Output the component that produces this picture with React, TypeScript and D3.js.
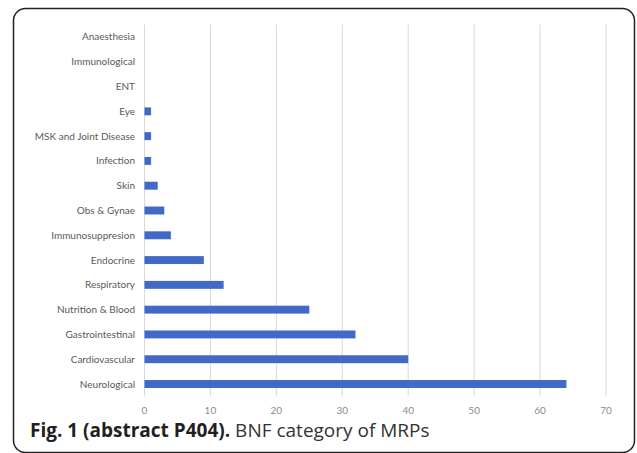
import React, { useEffect, useRef } from "react";
import * as d3 from "d3";

const categories = [
  "Anaesthesia",
  "Immunological",
  "ENT",
  "Eye",
  "MSK and Joint Disease",
  "Infection",
  "Skin",
  "Obs & Gynae",
  "Immunosuppresion",
  "Endocrine",
  "Respiratory",
  "Nutrition & Blood",
  "Gastrointestinal",
  "Cardiovascular",
  "Neurological",
];
const counts = [0, 0, 0, 1, 1, 1, 2, 3, 4, 9, 12, 25, 32, 40, 64];
const xTicks = [0, 10, 20, 30, 40, 50, 60, 70];
const captionBold = "Fig. 1 (abstract P404).";
const captionRest = " BNF category of MRPs";

const App: React.FC = () => {
  const svgRef = useRef<SVGSVGElement | null>(null);
  const width = 637;
  const height = 453;

  useEffect(() => {
    const svg = d3.select(svgRef.current);
    svg.selectAll("*").remove();

    // frame
    svg
      .append("rect")
      .attr("x", 13.5)
      .attr("y", 8.5)
      .attr("width", 621)
      .attr("height", 444)
      .attr("rx", 12)
      .attr("fill", "#fff")
      .attr("stroke", "#222")
      .attr("stroke-width", 1.5);

    const x = d3.scaleLinear().domain([0, 70]).range([144.5, 606]);
    const y = d3
      .scaleBand()
      .domain(categories)
      .range([24.6, 396.4])
      .paddingInner(0.68)
      .paddingOuter(0.34);

    const g = svg.append("g");

    g.selectAll(".grid")
      .data(xTicks)
      .enter()
      .append("line")
      .attr("x1", d => x(d))
      .attr("x2", d => x(d))
      .attr("y1", 24.6)
      .attr("y2", 396.4)
      .attr("stroke", "#d9d9d9")
      .attr("stroke-width", 1);

    g.selectAll(".tick")
      .data(xTicks)
      .enter()
      .append("text")
      .attr("x", d => x(d))
      .attr("y", 414)
      .attr("text-anchor", "middle")
      .attr("font-family", "Lato, sans-serif")
      .attr("font-size", 10)
      .attr("fill", "#8c8c8c")
      .text(d => d);

    g.selectAll(".bar")
      .data(categories)
      .enter()
      .append("rect")
      .attr("x", x(0))
      .attr("y", d => y(d) as number)
      .attr("width", (d, i) => x(counts[i]) - x(0))
      .attr("height", y.bandwidth())
      .attr("fill", "#4169c8");

    g.selectAll(".label")
      .data(categories)
      .enter()
      .append("text")
      .attr("x", 135)
      .attr("y", d => (y(d) as number) + y.bandwidth() / 2)
      .attr("dy", "0.35em")
      .attr("text-anchor", "end")
      .attr("font-family", "Lato, sans-serif")
      .attr("font-size", 10)
      .attr("fill", "#595959")
      .text(d => d);

    const cap = svg
      .append("text")
      .attr("x", 30)
      .attr("y", 437)
      .attr("font-family", "'Open Sans', sans-serif")
      .attr("font-size", 19)
      .attr("fill", "#231f20");
    cap.append("tspan").attr("font-weight", "bold").text(captionBold);
    cap.append("tspan").attr("fill", "#333").text(captionRest);
  }, []);

  return (
    <svg
      ref={svgRef}
      width={width}
      height={height}
      style={{ position: "absolute", left: 0, top: 0 }}
    />
  );
};

export default App;
